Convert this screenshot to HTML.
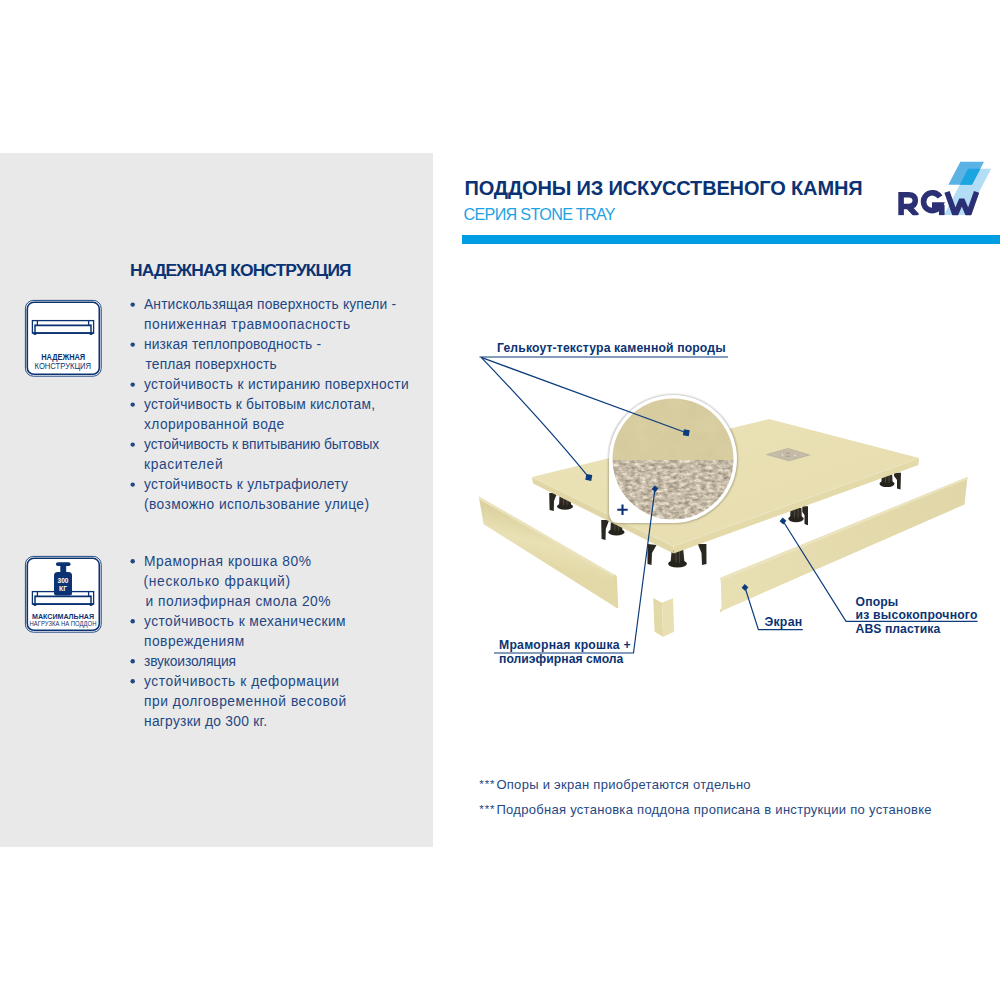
<!DOCTYPE html>
<html><head><meta charset="utf-8">
<style>
html,body{margin:0;padding:0;background:#fff;}
body{width:1000px;height:1000px;position:relative;overflow:hidden;font-family:"Liberation Sans",sans-serif;}
#panel{position:absolute;left:0;top:153px;width:433px;height:694px;background:#e9e9e9;}
#bar{position:absolute;left:462px;top:235px;width:538px;height:9px;background:#009de2;}
svg{position:absolute;left:0;top:0;}
</style></head><body>
<div id="panel"></div>
<div id="bar"></div>
<svg width="1000" height="1000" viewBox="0 0 1000 1000" style="position:absolute;left:0;top:0">
<g fill="none" stroke="#0b3373">
  <rect x="25.4" y="300.4" width="75.8" height="75.8" rx="8" fill="#fff" stroke-width="0.9"/>
  <rect x="27.3" y="302.3" width="72" height="72" rx="6.5" stroke-width="1.6"/>
  <g stroke-width="1.3">
    <rect x="32.4" y="320.6" width="61.2" height="12.4"/>
    <path d="M35 325.4 H91" stroke-width="1.6"/>
    <path d="M37.4 320.6 V325.4 M88.6 320.6 V325.4"/>
    <path d="M35 324.5 V333.5 M91 324.5 V333.5" stroke-width="1.5"/>
    <path d="M32.4 333.2 H93.6" stroke-width="1.8"/>
  </g>
  <g fill="#0b3373" stroke="none"><ellipse cx="35" cy="334" rx="1.6" ry="0.9"/><ellipse cx="91" cy="334" rx="1.6" ry="0.9"/></g>
  <rect x="25.4" y="556.4" width="75.8" height="75.8" rx="8" fill="#fff" stroke-width="0.9"/>
  <rect x="27.3" y="558.3" width="72" height="72" rx="6.5" stroke-width="1.6"/>
  <g stroke-width="1.3">
    <rect x="32.4" y="591.6" width="61.2" height="12.4"/>
    <path d="M35 596.4 H91" stroke-width="1.6"/>
    <path d="M37.4 591.6 V596.4 M88.6 591.6 V596.4"/>
    <path d="M35 595.5 V604.5 M91 595.5 V604.5" stroke-width="1.5"/>
    <path d="M32.4 604.2 H93.6" stroke-width="1.8"/>
  </g>
  <g fill="#0b3373" stroke="none"><ellipse cx="35" cy="605" rx="1.6" ry="0.9"/><ellipse cx="91" cy="605" rx="1.6" ry="0.9"/></g>
</g>
<g fill="#0b3373">
  <rect x="56" y="562.3" width="14.5" height="3.8" rx="1.8"/>
  <rect x="60.3" y="565" width="5.9" height="7"/>
  <path d="M57.5 572 H68.5 Q72 572 72 575.5 V593 Q72 595.5 69.5 595.5 H56.5 Q54 595.5 54 593 V575.5 Q54 572 57.5 572 Z"/>
</g>
<g font-family="Liberation Sans" text-anchor="middle">
  <text x="63.2" y="359.5" font-size="8.6" font-weight="bold" fill="#0b3373" textLength="44" lengthAdjust="spacingAndGlyphs">НАДЕЖНАЯ</text>
  <text x="62.8" y="368.6" font-size="8.2" fill="#0b3373" textLength="56.5" lengthAdjust="spacingAndGlyphs">КОНСТРУКЦИЯ</text>
  <text x="63" y="582.6" font-size="7.6" font-weight="bold" fill="#fff" textLength="11" lengthAdjust="spacingAndGlyphs">300</text>
  <text x="63" y="590.6" font-size="7" font-weight="bold" fill="#fff" textLength="8" lengthAdjust="spacingAndGlyphs">КГ</text>
  <text x="63" y="619.2" font-size="8" font-weight="bold" fill="#0b3373" textLength="62" lengthAdjust="spacingAndGlyphs">МАКСИМАЛЬНАЯ</text>
  <text x="63" y="626.3" font-size="6.4" fill="#0b3373" textLength="67" lengthAdjust="spacingAndGlyphs">НАГРУЗКА НА ПОДДОН</text>
</g>
</svg>

<svg width="1000" height="1000" viewBox="0 0 1000 1000" style="position:absolute;left:0;top:0">
<defs>
  <linearGradient id="gTop" x1="0" y1="0" x2="1" y2="1">
    <stop offset="0" stop-color="#ebe2b8"/>
    <stop offset="1" stop-color="#e6dcae"/>
  </linearGradient>
  <linearGradient id="gScrL" gradientUnits="userSpaceOnUse" x1="540" y1="520" x2="530" y2="560">
    <stop offset="0" stop-color="#dcd2a0"/>
    <stop offset="0.55" stop-color="#e9e0b5"/>
    <stop offset="1" stop-color="#e3d9a8"/>
  </linearGradient>
  <linearGradient id="gScrR" gradientUnits="userSpaceOnUse" x1="720" y1="590" x2="968" y2="490">
    <stop offset="0" stop-color="#e8dfb3"/>
    <stop offset="1" stop-color="#e0d6a7"/>
  </linearGradient>
  <filter id="stone" x="0" y="0" width="1" height="1" color-interpolation-filters="sRGB">
    <feTurbulence type="fractalNoise" baseFrequency="0.18 0.3" numOctaves="3" seed="5" stitchTiles="stitch" result="n"/>
    <feColorMatrix in="n" type="matrix" values="1 0 0 0 0  1 0 0 0 0  1 0 0 0 0  0 0 0 0 1" result="g"/>
    <feComponentTransfer in="g">
      <feFuncR type="linear" slope="0.55" intercept="0.5"/>
      <feFuncG type="linear" slope="0.55" intercept="0.46"/>
      <feFuncB type="linear" slope="0.55" intercept="0.385"/>
    </feComponentTransfer>
  </filter>
  <filter id="gel" x="0" y="0" width="1" height="1" color-interpolation-filters="sRGB">
    <feTurbulence type="fractalNoise" baseFrequency="0.06" numOctaves="2" seed="3" result="n"/>
    <feColorMatrix in="n" type="matrix" values="1 0 0 0 0  1 0 0 0 0  1 0 0 0 0  0 0 0 0 1" result="g"/>
    <feComponentTransfer in="g">
      <feFuncR type="linear" slope="0.25" intercept="0.72"/>
      <feFuncG type="linear" slope="0.25" intercept="0.68"/>
      <feFuncB type="linear" slope="0.25" intercept="0.52"/>
    </feComponentTransfer>
  </filter>
  <clipPath id="inner"><circle cx="673" cy="459" r="60.5"/></clipPath>
  <filter id="shadow" x="-0.2" y="-0.2" width="1.4" height="1.4">
    <feGaussianBlur stdDeviation="1.2"/>
  </filter>
</defs>

<!-- left screen panel -->
<polygon points="478.8,496.5 615.6,575.4 617.2,608.2 483.6,524.2" fill="url(#gScrL)"/>
<polygon points="478.8,496.5 615.6,575.4 615.8,578.2 479.3,499.4" fill="#ebe3bd"/>
<polygon points="613.5,574.2 616.8,576 618.3,608.5 615.2,607" fill="#e2d7a5"/>

<!-- legs -->
<path d="M559.5 496 H570.5 L571.0 505.5 V506.5 H559.0 V505.5 Z" fill="#2e2a23"/><ellipse cx="565" cy="506.5" rx="8" ry="3.3" fill="#26231d"/><path d="M563.5 496 V505.5 M567.0 496 V505.5" stroke="#4d483d" stroke-width="1"/><polygon points="549.2,493 557.2,493 554,501 553.8,511 549.6,510" fill="#2a2620"/><path d="M610.9 521 H621.9 L622.4 531.2 V532.2 H610.4 V531.2 Z" fill="#2e2a23"/><ellipse cx="616.4" cy="532.2" rx="8" ry="3.3" fill="#26231d"/><path d="M614.9 521 V531.2 M618.4 521 V531.2" stroke="#4d483d" stroke-width="1"/><polygon points="601.2,520 609.2,520 605.8,529 605.5,540 601.6,539" fill="#2a2620"/><path d="M671.7 550 H683.3 L684.5 562.8 V563.8 H670.5 V562.8 Z" fill="#2e2a23"/><ellipse cx="677.5" cy="563.8" rx="9.4" ry="3.8" fill="#26231d"/><path d="M676.0 550 V562.8 M679.5 550 V562.8" stroke="#4d483d" stroke-width="1"/><polygon points="647.5,544 656.5,545 652,553 651.5,565 647.5,564" fill="#2a2620"/><polygon points="697.8,544 706.4,544 706.5,564 702,565 701.5,553" fill="#2a2620"/><path d="M790.5 508 H801.5 L801.8 517.8 V518.8 H790.2 V517.8 Z" fill="#2e2a23"/><ellipse cx="796" cy="518.8" rx="7.7" ry="3.5" fill="#26231d"/><path d="M794.5 508 V517.8 M798.0 508 V517.8" stroke="#4d483d" stroke-width="1"/><polygon points="802.3,506.3 808,506.3 808,525.2 804.5,524 804.5,515 802.3,512" fill="#2a2620"/><path d="M881.8 474.5 H892.2 L892.6 482.8 V483.8 H881.4 V482.8 Z" fill="#2e2a23"/><ellipse cx="887" cy="483.8" rx="7.5" ry="3.3" fill="#26231d"/><path d="M885.5 474.5 V482.8 M889.0 474.5 V482.8" stroke="#4d483d" stroke-width="1"/><polygon points="894,472.7 901,472.7 900.5,489.5 897,488.5 897,480 894,476" fill="#2a2620"/>

<!-- tray -->
<polygon points="532,477 673.2,546 673.6,553.5 533,483.5" fill="#e0d6a6"/>
<polygon points="673.2,546 919,458 918.5,465 673.6,553.5" fill="#e3d9a9"/>
<polygon points="532,477 769,419 919,458 673.2,546" fill="url(#gTop)"/>
<path d="M532.5 477.6 L673.2 546.6 L919 458.6" stroke="#efe7c8" stroke-width="0.7" opacity="0.7" fill="none"/>
<!-- drain -->
<polygon points="765.4,454.5 788,448.1 811,455 789,461.3" fill="#bcb39f"/>
<polygon points="769,454.5 788,449 807,455 789,460.3" fill="#c7bfac"/>
<ellipse cx="788.5" cy="454.7" rx="12" ry="4.2" fill="#c3baa7"/>
<path d="M786 453.2 h4 M786 456.3 h4" stroke="#9f957f" stroke-width="0.7"/>
<circle cx="782.5" cy="455" r="0.8" fill="#f4f0e6"/>
<circle cx="795" cy="455.3" r="0.8" fill="#f4f0e6"/>

<!-- right screen -->
<polygon points="720.8,577.5 967.5,477 964.5,504.5 721.6,611" fill="url(#gScrR)"/>
<polygon points="719.8,578.2 967.5,477 967.2,479.3 720.5,581" fill="#ece4c0"/>
<polygon points="719.8,609.5 722,608.5 722,612 720,612" fill="#e6dcae"/>

<!-- corner piece -->
<polygon points="653.2,598 662,602.7 663.1,636.8 654.6,631.8" fill="#e3d9a7"/>
<polygon points="662,602.7 673,598.3 674.1,631.8 663.1,636.8" fill="#e8dfb2"/>

<!-- magnifier -->
<path d="M609 459 A64 64 0 1 1 673 523 H619 Q609 523 609 513 Z" fill="#000" stroke="#000" stroke-width="1.2" opacity="0.3" filter="url(#shadow)"/>
<path d="M609 459 A64 64 0 1 1 673 523 H619 Q609 523 609 513 Z" fill="#fff"/>
<g clip-path="url(#inner)">
  <rect x="610" y="396" width="126" height="64" fill="#d6cca0"/>
  <rect x="610" y="396" width="126" height="64" filter="url(#gel)" opacity="0.12"/>
  <rect x="610" y="460" width="126" height="62" filter="url(#stone)"/>
</g>
<path d="M617.3 509.7 h10.4 M622.5 504.5 v10.4" stroke="#0b3373" stroke-width="2.1"/>

<!-- leader lines -->
<g stroke="#0d3c7c" stroke-width="1.2" fill="none">
  <polyline points="728,357 479.5,357"/>
  <path d="M481.2 357.4 Q546.3 425.3 588.8 477.4"/>
  <line x1="481.2" y1="357.4" x2="686.3" y2="432.8"/>
  <polyline points="494,653 633.5,653 655,488.8"/>
  <polyline points="802.8,629.6 758.4,629.6 745,587.5"/>
  <polyline points="977.5,621.4 846,621.4 783,521"/>
</g>
<g fill="#0d3c7c">
  <rect x="-3" y="-3" width="6" height="6" transform="translate(588.8 477.4) rotate(10)"/>
  <rect x="-3" y="-3" width="6" height="6" transform="translate(686.3 432.8) rotate(10)"/>
  <rect x="-2.4" y="-2.4" width="4.8" height="4.8" transform="translate(655 488.8) rotate(40)"/>
  <rect x="-2.4" y="-2.4" width="4.8" height="4.8" transform="translate(745 587.5) rotate(40)"/>
  <rect x="-2.4" y="-2.4" width="4.8" height="4.8" transform="translate(783 521) rotate(40)"/>
</g>
</svg>

<svg width="1000" height="1000" viewBox="0 0 1000 1000">
  <defs><clipPath id="logoclip"><rect x="890" y="150" width="110" height="65.2"/></clipPath></defs>
  <polygon points="968.1,168.75 991.2,168.75 967,215 943.9,215" fill="#b3dcf5"/>
  <polygon points="960.4,161.8 984,161.8 972,184.7 948.3,184.7" fill="#5ab2e5"/>
  <polygon points="968.1,168.75 980.4,168.75 972,184.7 959.8,184.7" fill="#1aa5e0"/>
  <g fill="none" stroke="#2b3075" stroke-width="5.6" clip-path="url(#logoclip)">
    <path d="M901.1 215.5 V194.7 H908.5 Q915.3 194.7 915.3 200.6 Q915.3 206.5 908.5 206.5 H901.1 M907.5 205.5 L917 216"/>
    <path d="M940 197 A8.9 8.9 0 1 0 940.7 205 H932"/>
    <path d="M941.8 205 V215.5"/>
    <path d="M947 191.9 L955.2 215 L961.8 199.5 L968.4 215 L976.6 191.9" stroke-linejoin="miter" stroke-miterlimit="2"/>
  </g>
</svg>

<svg width="1000" height="1000" viewBox="0 0 1000 1000" font-family="Liberation Sans, sans-serif">
<text x="464.5" y="195.2" font-size="20" font-weight="bold" fill="#0b3373" textLength="398.1" lengthAdjust="spacing">ПОДДОНЫ ИЗ ИСКУССТВЕНОГО КАМНЯ</text>
<text x="463.5" y="220" font-size="16.2" fill="#1ea2e2" textLength="152.1" lengthAdjust="spacing" lengthAdjust="spacingAndGlyphs">СЕРИЯ STONE TRAY</text>
<text x="130" y="276" font-size="17.4" font-weight="bold" fill="#0b3373" textLength="221.6" lengthAdjust="spacing" lengthAdjust="spacingAndGlyphs">НАДЕЖНАЯ КОНСТРУКЦИЯ</text>
<circle cx="132.7" cy="304.6" r="2.2" fill="#1f4784"/>
<text x="144" y="309.2" font-size="13.8" fill="#1f4784" textLength="252.0" lengthAdjust="spacing">Антискользящая поверхность купели -</text>
<text x="144" y="329.2" font-size="13.8" fill="#1f4784" textLength="206.1" lengthAdjust="spacing">пониженная травмоопасность</text>
<circle cx="132.7" cy="344.6" r="2.2" fill="#1f4784"/>
<text x="144" y="349.2" font-size="13.8" fill="#1f4784" textLength="177.0" lengthAdjust="spacing">низкая теплопроводность -</text>
<text x="145.5" y="369.2" font-size="13.8" fill="#1f4784" textLength="131.1" lengthAdjust="spacing">теплая поверхность</text>
<circle cx="132.7" cy="384.6" r="2.2" fill="#1f4784"/>
<text x="144" y="389.2" font-size="13.8" fill="#1f4784" textLength="264.6" lengthAdjust="spacing">устойчивость к истиранию поверхности</text>
<circle cx="132.7" cy="404.6" r="2.2" fill="#1f4784"/>
<text x="144" y="409.2" font-size="13.8" fill="#1f4784" textLength="231.0" lengthAdjust="spacing">устойчивость к бытовым кислотам,</text>
<text x="144" y="429.2" font-size="13.8" fill="#1f4784" textLength="140.1" lengthAdjust="spacing">хлорированной воде</text>
<circle cx="132.7" cy="444.6" r="2.2" fill="#1f4784"/>
<text x="144" y="449.2" font-size="13.8" fill="#1f4784" textLength="235.2" lengthAdjust="spacing">устойчивость к впитыванию бытовых</text>
<text x="144" y="469.2" font-size="13.8" fill="#1f4784" textLength="78.6" lengthAdjust="spacing">красителей</text>
<circle cx="132.7" cy="484.6" r="2.2" fill="#1f4784"/>
<text x="144" y="489.2" font-size="13.8" fill="#1f4784" textLength="204.0" lengthAdjust="spacing">устойчивость к ультрафиолету</text>
<text x="144" y="509.2" font-size="13.8" fill="#1f4784" textLength="225.0" lengthAdjust="spacing">(возможно использование улице)</text>
<circle cx="132.7" cy="561.2" r="2.2" fill="#1f4784"/>
<text x="144" y="565.8" font-size="13.8" fill="#1f4784" textLength="167.1" lengthAdjust="spacing">Мраморная крошка 80%</text>
<text x="143.5" y="585.8" font-size="13.8" fill="#1f4784" textLength="146.6" lengthAdjust="spacing">(несколько фракций)</text>
<text x="145.5" y="605.8" font-size="13.8" fill="#1f4784" textLength="185.1" lengthAdjust="spacing">и полиэфирная смола 20%</text>
<circle cx="132.7" cy="621.2" r="2.2" fill="#1f4784"/>
<text x="144" y="625.8" font-size="13.8" fill="#1f4784" textLength="201.6" lengthAdjust="spacing">устойчивость к механическим</text>
<text x="144" y="645.8" font-size="13.8" fill="#1f4784" textLength="100.2" lengthAdjust="spacing">повреждениям</text>
<circle cx="132.7" cy="661.2" r="2.2" fill="#1f4784"/>
<text x="144" y="665.8" font-size="13.8" fill="#1f4784" textLength="92.1" lengthAdjust="spacing">звукоизоляция</text>
<circle cx="132.7" cy="681.2" r="2.2" fill="#1f4784"/>
<text x="144" y="685.8" font-size="13.8" fill="#1f4784" textLength="195.0" lengthAdjust="spacing">устойчивость к деформации</text>
<text x="144" y="705.8" font-size="13.8" fill="#1f4784" textLength="202.2" lengthAdjust="spacing">при долговременной весовой</text>
<text x="144" y="725.8" font-size="13.8" fill="#1f4784" textLength="123.0" lengthAdjust="spacing">нагрузки до 300 кг.</text>
<text x="479.3" y="787.7" font-size="11.5" fill="#1f4784" textLength="15.3" lengthAdjust="spacing">***</text>
<text x="496.4" y="789.2" font-size="13" fill="#1f4784" textLength="254.2" lengthAdjust="spacing">Опоры и экран приобретаются отдельно</text>
<text x="479.3" y="812.5" font-size="11.5" fill="#1f4784" textLength="15.3" lengthAdjust="spacing">***</text>
<text x="496.4" y="814" font-size="13" fill="#1f4784" textLength="435.2" lengthAdjust="spacing">Подробная установка поддона прописана в инструкции по установке</text>
<text x="497" y="352.2" font-size="12.2" font-weight="bold" fill="#0b3373" textLength="228.6" lengthAdjust="spacing">Гелькоут-текстура каменной породы</text>
<text x="499" y="649.2" font-size="12.2" font-weight="bold" fill="#0b3373" textLength="131.6" lengthAdjust="spacing">Мраморная крошка +</text>
<text x="499" y="663" font-size="12.2" font-weight="bold" fill="#0b3373" textLength="124.4" lengthAdjust="spacing">полиэфирная смола</text>
<text x="764.4" y="626" font-size="12.3" font-weight="bold" fill="#0b3373" textLength="37.8" lengthAdjust="spacing">Экран</text>
<text x="855.6" y="606.3" font-size="12.2" font-weight="bold" fill="#0b3373" textLength="42.6" lengthAdjust="spacing">Опоры</text>
<text x="855.6" y="618.8" font-size="12.2" font-weight="bold" fill="#0b3373" textLength="121.8" lengthAdjust="spacing">из высокопрочного</text>
<text x="855.6" y="633.2" font-size="12.2" font-weight="bold" fill="#0b3373" textLength="84.6" lengthAdjust="spacing">ABS пластика</text>
</svg>
</body></html>
